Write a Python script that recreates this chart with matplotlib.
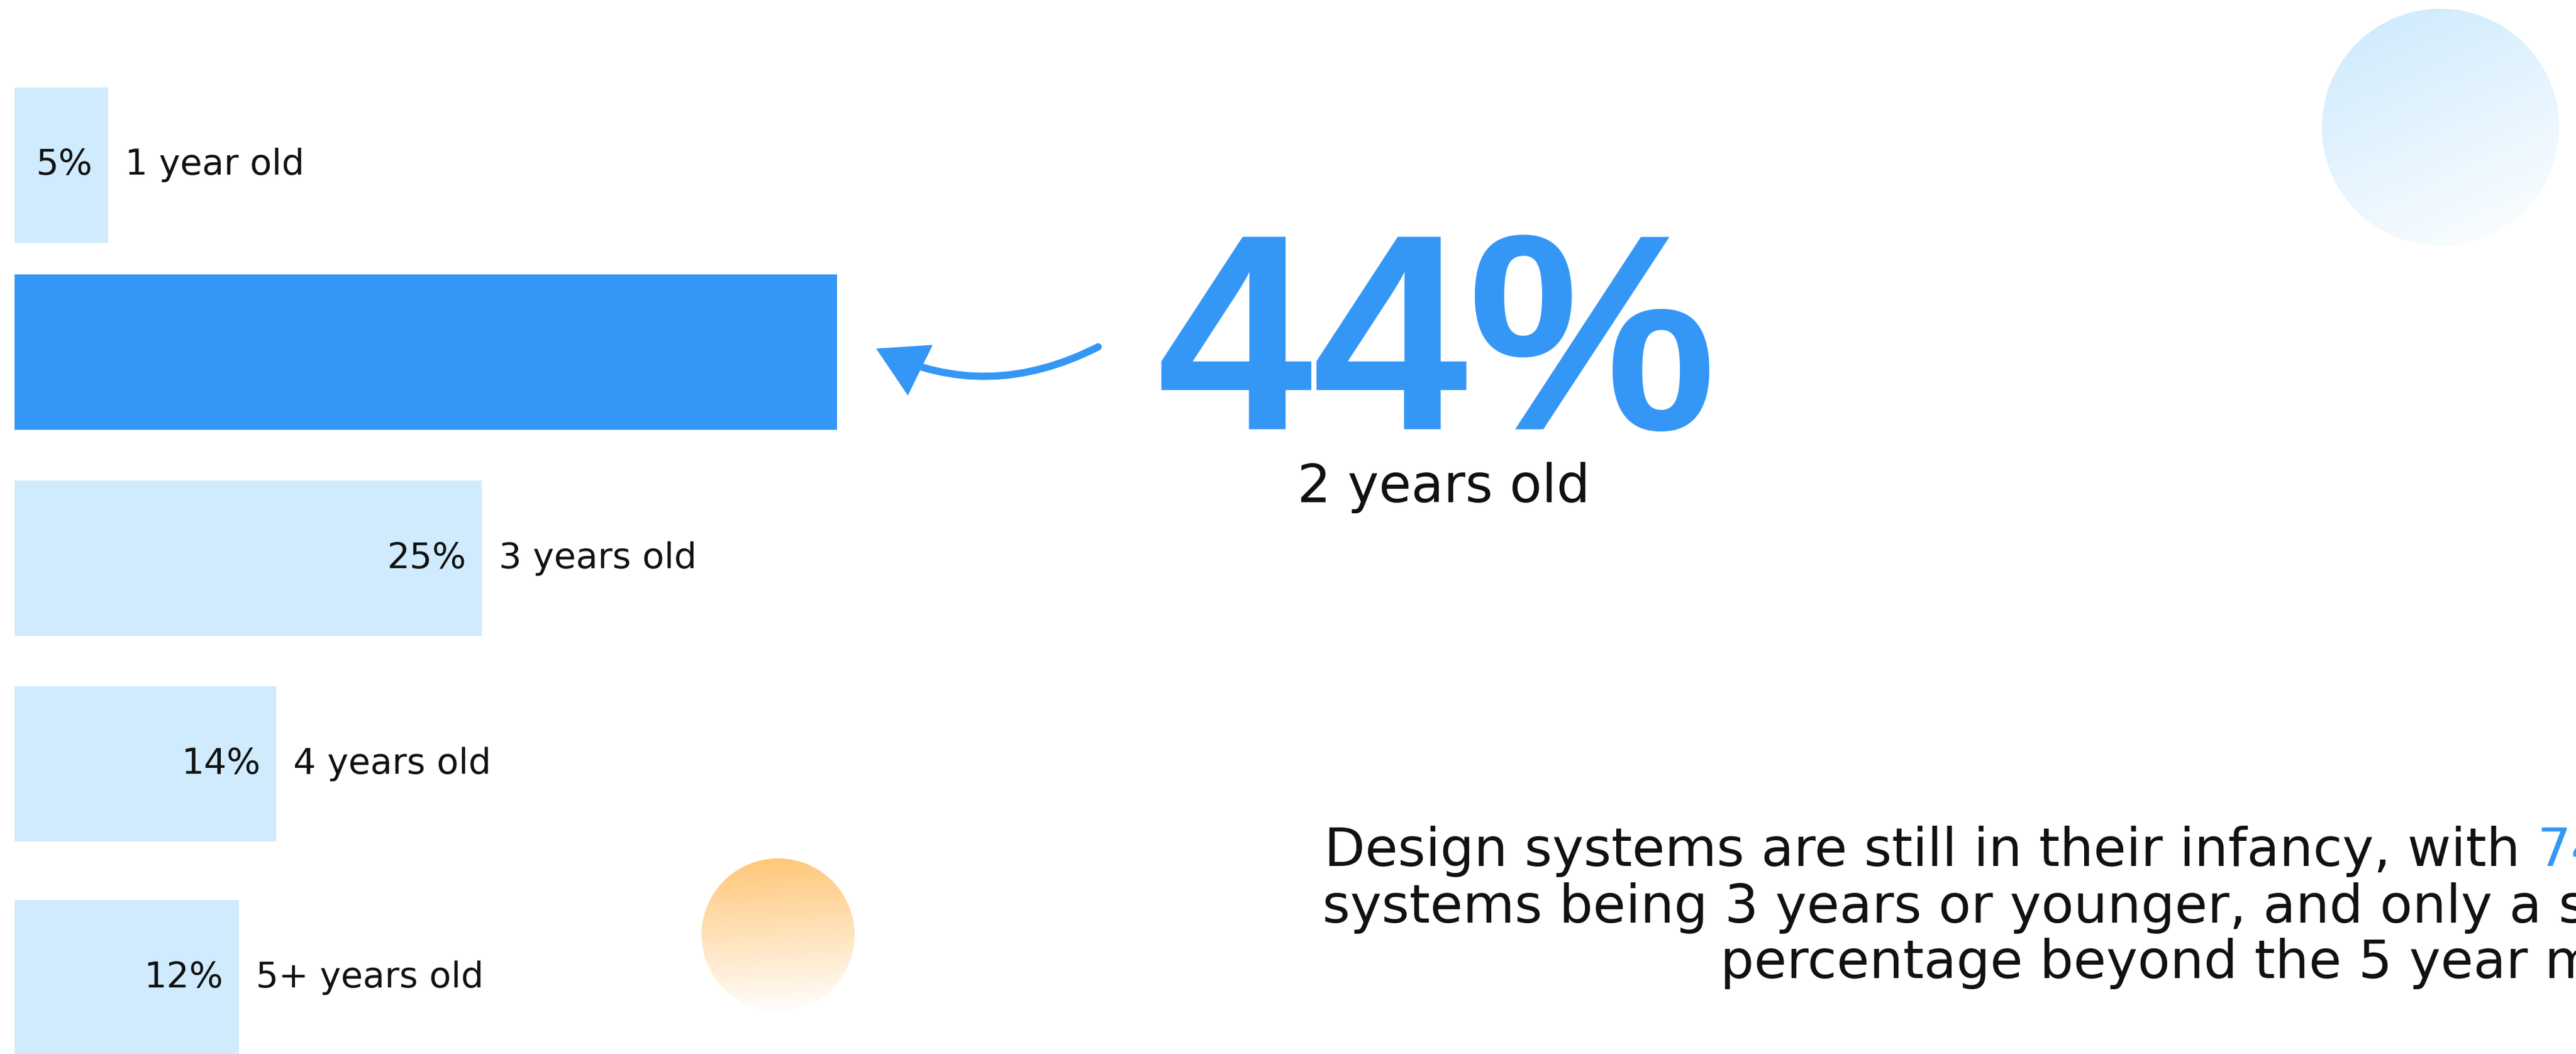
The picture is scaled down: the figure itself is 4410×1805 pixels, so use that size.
import numpy as np
import matplotlib.pyplot as plt
from matplotlib.patches import Circle, FancyArrowPatch
from matplotlib.colors import to_rgb

# data
ages = ['1 year old', '2 years old', '3 years old', '4 years old', '5+ years old']
shares = [5, 44, 25, 14, 12]
highlight = 1  # index of the big one

body_text = ['Design systems are still in their infancy, with ', '74%', ' of design',
             'systems being 3 years or younger, and only a small',
             'percentage beyond the 5 year mark.']

light_blue = '#CFEBFD'
blue = '#3597F5'

W, H = 4410, 1805
fig = plt.figure(figsize=(W / 100, H / 100), dpi=100)

# background layer in pixel coords
bg = fig.add_axes([0, 0, 1, 1])
bg.set_xlim(0, W)
bg.set_ylim(H, 0)
bg.axis('off')


def grad_circle(ax, cx, cy, r, c0, c1, wx, wy):
    n = 300
    yy, xx = np.mgrid[0:1:n * 1j, 0:1:n * 1j]
    t = (xx * wx + yy * wy) / (wx + wy)
    t = np.clip(t, 0, 1)[..., None]
    img = np.array(to_rgb(c0)) * (1 - t) + np.array(to_rgb(c1)) * t
    im = ax.imshow(img, extent=(cx - r, cx + r, cy + r, cy - r), aspect='auto',
                   interpolation='bilinear', zorder=0)
    circ = Circle((cx, cy), r, fc='none', ec='none', transform=ax.transData)
    ax.add_patch(circ)
    im.set_clip_path(circ)


grad_circle(bg, 4178, 218, 203, '#CBE9FD', '#FFFFFF', 0.35, 0.75)
grad_circle(bg, 1332, 1601, 131, '#FFC677', '#FFFFFF', 0.05, 0.95)
bg.set_xlim(0, W)
bg.set_ylim(H, 0)

# bars
bar_y = [283, 603, 956, 1308, 1674]
ax = fig.add_axes([25 / W, 0, 3200 / W, 1])
ax.set_xlim(0, 100)
ax.set_ylim(H, 0)
ax.axis('off')
ax.patch.set_alpha(0)
colors = [blue if i == highlight else light_blue for i in range(len(shares))]
ax.barh(bar_y, shares, height=266, color=colors)

for i, (lab, p) in enumerate(zip(ages, shares)):
    if i == highlight:
        continue
    ax.annotate(f'{p}%', xy=(p, bar_y[i]), xytext=(-19, 0), textcoords='offset points',
                ha='right', va='center', fontsize=44, color='#111111')
    ax.annotate(lab, xy=(p, bar_y[i]), xytext=(21, 0), textcoords='offset points',
                ha='left', va='center', fontsize=44, color='#111111')

# big callout
bg.text(2460, 735, f'{shares[highlight]}%', ha='center', va='baseline',
        fontsize=345, fontweight='bold', family='Liberation Sans', color=blue)
bg.text(2472, 860, ages[highlight], ha='center', va='baseline', fontsize=65, color='#111111')

arrow = FancyArrowPatch(posA=(1880, 594), posB=(1500, 597),
                        connectionstyle='arc3,rad=-0.25',
                        arrowstyle='-|>,head_length=0.47,head_width=0.27',
                        mutation_scale=100, lw=9, color=blue,
                        shrinkA=0, shrinkB=0, capstyle='round', joinstyle='miter')
bg.add_patch(arrow)

# paragraph, cut at the right edge like the reference
fs = 65.5
t1 = bg.text(2267, 1483, body_text[0], ha='left', va='baseline', fontsize=fs, color='#111111')
t2 = bg.annotate(body_text[1], xy=(1, 0), xycoords=t1, ha='left', va='bottom',
                 fontsize=fs, color=blue)
bg.annotate(body_text[2], xy=(1, 0), xycoords=t2, ha='left', va='bottom',
            fontsize=fs, color='#111111')
bg.text(2264, 1580, body_text[3], ha='left', va='baseline', fontsize=fs, color='#111111')
bg.text(2945, 1675, body_text[4], ha='left', va='baseline', fontsize=fs, color='#111111')

fig.savefig('out.png', dpi=100, facecolor='white')
